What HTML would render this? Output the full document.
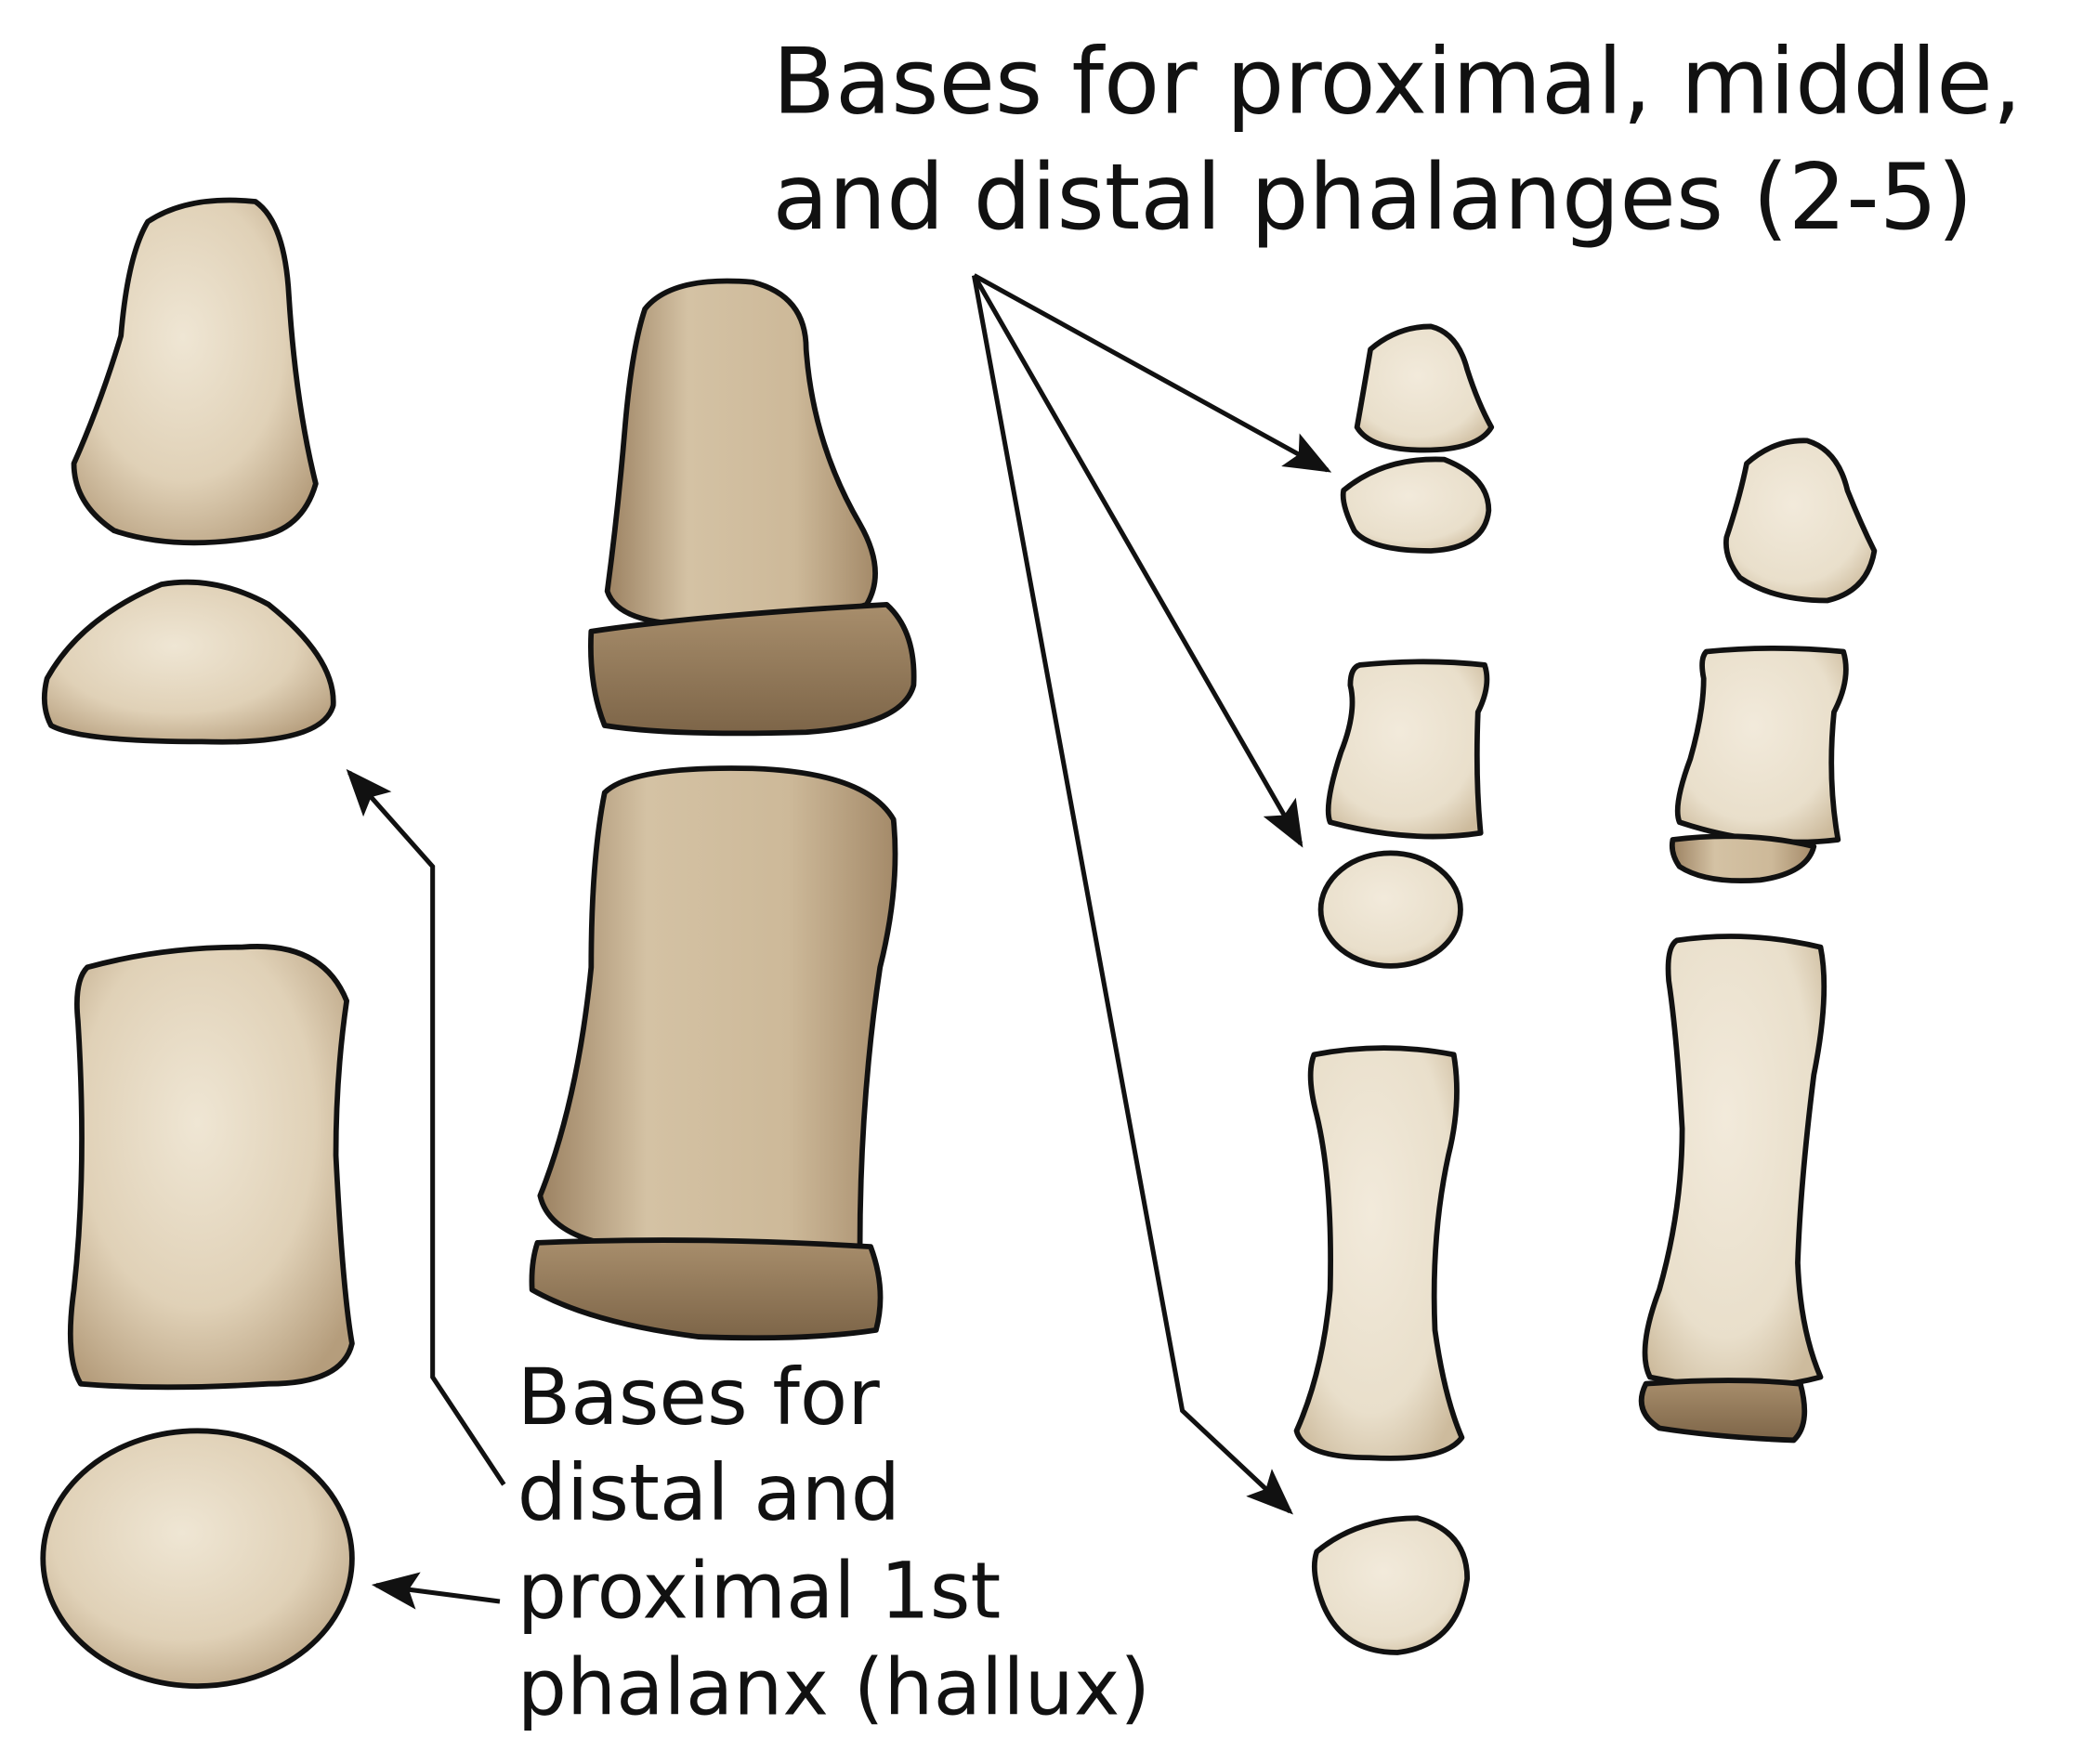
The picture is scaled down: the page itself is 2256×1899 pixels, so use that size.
<!DOCTYPE html>
<html><head><meta charset="utf-8"><style>
html,body{margin:0;padding:0;background:#fff;}
svg{display:block;}
text{font-family:"DejaVu Sans","Liberation Sans",sans-serif;fill:#111;}
</style></head><body>
<svg width="2256" height="1899" viewBox="0 0 1560 1313" preserveAspectRatio="none" xmlns="http://www.w3.org/2000/svg">
<defs>
<radialGradient id="bone" cx="45%" cy="40%" r="70%">
<stop offset="0" stop-color="#efe6d4"/><stop offset="0.6" stop-color="#e0d1b7"/><stop offset="1" stop-color="#b59d7c"/>
</radialGradient>
<radialGradient id="boneL" cx="45%" cy="40%" r="70%">
<stop offset="0" stop-color="#f2eadb"/><stop offset="0.7" stop-color="#e9dfcb"/><stop offset="1" stop-color="#cdbb9d"/>
</radialGradient>
<linearGradient id="dark" x1="0" y1="0" x2="0" y2="1">
<stop offset="0" stop-color="#a88e6c"/><stop offset="1" stop-color="#7d6548"/>
</linearGradient>
<linearGradient id="mid" x1="0" y1="0" x2="1" y2="0">
<stop offset="0" stop-color="#9c8262"/><stop offset="0.3" stop-color="#d4c2a4"/><stop offset="0.7" stop-color="#cdb999"/><stop offset="1" stop-color="#a48a69"/>
</linearGradient>
<marker id="ah" markerWidth="10" markerHeight="8" refX="9" refY="4" orient="auto" markerUnits="strokeWidth">
<path d="M0,0 L10,4 L0,8 L2,4 Z" fill="#111"/>
</marker>
</defs>
<g stroke="#111" stroke-width="4" stroke-linejoin="round">
<path fill="url(#bone)" d="M110,165 Q140,145 190,150 Q212,165 215,220 Q220,300 235,360 Q225,395 190,400 Q130,410 85,395 Q55,375 55,345 Q75,300 90,250 Q95,190 110,165Z"/>
<path fill="url(#bone)" d="M35,505 Q60,460 120,435 Q160,428 200,450 Q250,490 248,525 Q240,555 150,552 Q60,552 38,540 Q30,525 35,505Z"/>
<path fill="url(#bone)" d="M65,720 Q120,705 180,705 Q240,700 258,745 Q250,800 250,860 Q255,960 262,1000 Q255,1030 200,1030 Q120,1035 60,1030 Q48,1010 55,960 Q65,870 58,760 Q55,730 65,720Z"/>
<ellipse fill="url(#bone)" cx="147" cy="1160" rx="115" ry="95"/>
<path fill="url(#mid)" d="M480,230 Q500,205 560,210 Q600,220 600,260 Q605,330 640,390 Q660,425 645,450 Q600,465 520,465 Q460,465 452,440 Q460,380 465,320 Q470,260 480,230Z"/>
<path fill="url(#dark)" d="M440,470 Q520,458 660,450 Q682,470 680,510 Q672,540 600,545 Q500,548 450,540 Q438,510 440,470Z"/>
<path fill="url(#mid)" d="M450,590 Q470,570 560,572 Q645,575 665,610 Q670,660 655,720 Q640,820 640,930 Q560,935 480,930 Q410,925 402,890 Q430,820 440,720 Q440,640 450,590Z"/>
<path fill="url(#dark)" d="M400,925 Q520,920 648,928 Q660,960 652,990 Q600,998 520,995 Q440,985 396,960 Q395,940 400,925Z"/>
<path fill="url(#boneL)" d="M1020,260 Q1040,243 1065,243 Q1085,248 1092,275 Q1100,300 1110,318 Q1100,335 1060,335 Q1020,335 1010,318 Q1015,290 1020,260Z"/>
<path fill="url(#boneL)" d="M1000,365 Q1030,340 1075,342 Q1108,355 1108,380 Q1105,408 1065,410 Q1020,410 1008,395 Q998,375 1000,365Z"/>
<path fill="url(#boneL)" d="M1012,495 Q1060,490 1105,495 Q1110,510 1100,530 Q1098,580 1102,620 Q1050,628 990,612 Q985,600 998,560 Q1010,530 1005,510 Q1005,497 1012,495Z"/>
<ellipse fill="url(#boneL)" cx="1035" cy="677" rx="52" ry="42"/>
<path fill="url(#boneL)" d="M978,785 Q1030,775 1082,785 Q1088,820 1078,860 Q1065,920 1068,990 Q1075,1040 1088,1070 Q1075,1088 1020,1085 Q970,1085 965,1065 Q985,1020 990,960 Q992,880 980,830 Q972,800 978,785Z"/>
<path fill="url(#boneL)" d="M980,1155 Q1010,1130 1055,1130 Q1092,1140 1092,1175 Q1085,1225 1040,1230 Q1000,1230 985,1195 Q975,1170 980,1155Z"/>
<path fill="url(#boneL)" d="M1300,345 Q1320,327 1345,328 Q1368,335 1375,365 Q1385,390 1395,410 Q1390,440 1360,447 Q1320,447 1295,430 Q1283,415 1285,400 Q1295,370 1300,345Z"/>
<path fill="url(#boneL)" d="M1270,485 Q1320,480 1372,485 Q1378,505 1365,530 Q1360,580 1368,625 Q1310,632 1250,612 Q1245,600 1258,565 Q1268,530 1268,505 Q1265,490 1270,485Z"/>
<path fill="url(#mid)" d="M1245,625 Q1300,618 1350,630 Q1345,650 1310,655 Q1270,658 1250,645 Q1243,635 1245,625Z"/>
<path fill="url(#boneL)" d="M1248,700 Q1300,692 1355,705 Q1362,740 1350,800 Q1340,880 1338,940 Q1340,990 1355,1025 Q1300,1040 1228,1025 Q1218,1005 1235,960 Q1252,900 1252,840 Q1248,770 1242,730 Q1240,705 1248,700Z"/>
<path fill="url(#dark)" d="M1225,1030 Q1290,1025 1340,1030 Q1348,1060 1335,1072 Q1280,1070 1235,1063 Q1215,1050 1225,1030Z"/>
</g>
<g stroke="#111" stroke-width="3.5" fill="none">
<line x1="725" y1="205" x2="988" y2="350" marker-end="url(#ah)"/>
<line x1="725" y1="205" x2="968" y2="628" marker-end="url(#ah)"/>
<polyline points="725,205 880,1050 960,1125" marker-end="url(#ah)"/>
<polyline points="375,1105 322,1025 322,645 260,575" marker-end="url(#ah)"/>
<line x1="372" y1="1192" x2="280" y2="1180" marker-end="url(#ah)"/>
</g>
<text x="575" y="84" font-size="68">Bases for proximal, middle,</text>
<text x="575" y="170" font-size="68">and distal phalanges (2-5)</text>
<text x="385" y="1060" font-size="58">Bases for</text>
<text x="385" y="1131" font-size="58">distal and</text>
<text x="385" y="1204" font-size="58">proximal 1st</text>
<text x="385" y="1276" font-size="58">phalanx (hallux)</text>
</svg>
</body></html>
